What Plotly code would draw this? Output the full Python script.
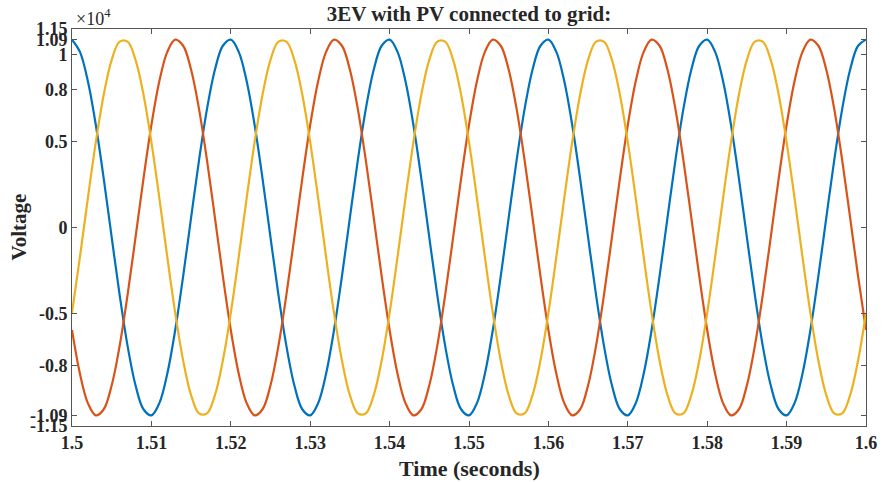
import plotly.graph_objects as go

# Time samples (s), 1 ms step from 1.50 to 1.60
time_s = [round(1.5 + 0.001 * i, 3) for i in range(101)]

# Phase voltages (V)
phase_blue = [
    10885, 10176, 8471, 5937, 2821, -571, -3906, -6860, -9142, -10529,
    -10885, -10176, -8471, -5937, -2821, 571, 3906, 6860, 9142, 10529,
    10885, 10176, 8471, 5937, 2821, -571, -3906, -6860, -9142, -10529,
    -10885, -10176, -8471, -5937, -2821, 571, 3906, 6860, 9142, 10529,
    10885, 10176, 8471, 5937, 2821, -571, -3906, -6860, -9142, -10529,
    -10885, -10176, -8471, -5937, -2821, 571, 3906, 6860, 9142, 10529,
    10885, 10176, 8471, 5937, 2821, -571, -3906, -6860, -9142, -10529,
    -10885, -10176, -8471, -5937, -2821, 571, 3906, 6860, 9142, 10529,
    10885, 10176, 8471, 5937, 2821, -571, -3906, -6860, -9142, -10529,
    -10885, -10176, -8471, -5937, -2821, 571, 3906, 6860, 9142, 10529,
    10885,
]
phase_red = [
    -5937, -8471, -10176, -10885, -10529, -9142, -6860, -3906, -571, 2821,
    5937, 8471, 10176, 10885, 10529, 9142, 6860, 3906, 571, -2821,
    -5937, -8471, -10176, -10885, -10529, -9142, -6860, -3906, -571, 2821,
    5937, 8471, 10176, 10885, 10529, 9142, 6860, 3906, 571, -2821,
    -5937, -8471, -10176, -10885, -10529, -9142, -6860, -3906, -571, 2821,
    5937, 8471, 10176, 10885, 10529, 9142, 6860, 3906, 571, -2821,
    -5937, -8471, -10176, -10885, -10529, -9142, -6860, -3906, -571, 2821,
    5937, 8471, 10176, 10885, 10529, 9142, 6860, 3906, 571, -2821,
    -5937, -8471, -10176, -10885, -10529, -9142, -6860, -3906, -571, 2821,
    5937, 8471, 10176, 10885, 10529, 9142, 6860, 3906, 571, -2821,
    -5937,
]
phase_yellow = [
    -4948, -1705, 1705, 4948, 7707, 9712, 10766, 10766, 9712, 7707,
    4948, 1705, -1705, -4948, -7707, -9712, -10766, -10766, -9712, -7707,
    -4948, -1705, 1705, 4948, 7707, 9712, 10766, 10766, 9712, 7707,
    4948, 1705, -1705, -4948, -7707, -9712, -10766, -10766, -9712, -7707,
    -4948, -1705, 1705, 4948, 7707, 9712, 10766, 10766, 9712, 7707,
    4948, 1705, -1705, -4948, -7707, -9712, -10766, -10766, -9712, -7707,
    -4948, -1705, 1705, 4948, 7707, 9712, 10766, 10766, 9712, 7707,
    4948, 1705, -1705, -4948, -7707, -9712, -10766, -10766, -9712, -7707,
    -4948, -1705, 1705, 4948, 7707, 9712, 10766, 10766, 9712, 7707,
    4948, 1705, -1705, -4948, -7707, -9712, -10766, -10766, -9712, -7707,
    -4948,
]

x_tickvals = [1.5, 1.51, 1.52, 1.53, 1.54, 1.55, 1.56, 1.57, 1.58, 1.59, 1.6]
x_ticktext = ["1.5", "1.51", "1.52", "1.53", "1.54", "1.55", "1.56", "1.57", "1.58", "1.59", "1.6"]
y_tickvals = [-11500, -10900, -8000, -5000, 0, 5000, 8000, 10000, 10900, 11500]
y_ticktext = ["-1.15", "-1.09", "-0.8", "-0.5", "0", "0.5", "0.8", "1", "1.09", "1.15"]

serif = "Liberation Serif, Times New Roman, serif"

fig = go.Figure()
for vals, color in [(phase_blue, "#0072BD"), (phase_red, "#D95319"), (phase_yellow, "#EDB120")]:
    fig.add_trace(go.Scatter(
        x=time_s, y=vals, mode="lines",
        line=dict(color=color, width=2.2, shape="spline", smoothing=1.0),
        showlegend=False, hoverinfo="skip",
    ))

axis_common = dict(
    showgrid=False, zeroline=False, showline=True, linecolor="#555555", linewidth=1,
    mirror="allticks", ticks="inside", ticklen=5, tickcolor="#555555", tickwidth=1,
    tickfont=dict(family=serif, size=18, color="#262626"), automargin=False,
)

fig.update_layout(
    width=882, height=482,
    margin=dict(l=72, r=16, t=29, b=56),
    paper_bgcolor="white", plot_bgcolor="white",
    title=dict(text="<b>3EV with PV connected to grid:</b>", xref="paper", x=0.5, xanchor="center",
               yref="container", y=0.971, yanchor="middle",
               font=dict(family=serif, size=21, color="#262626")),
    xaxis=dict(range=[1.5, 1.6], tickmode="array", tickvals=x_tickvals,
               ticktext=[f"<b>{t}</b>" for t in x_ticktext], **axis_common),
    yaxis=dict(range=[-11500, 11500], tickmode="array", tickvals=y_tickvals,
               ticktext=[f"<b>{t}</b>" for t in y_ticktext], **axis_common),
    annotations=[
        dict(text="<b>Time (seconds)</b>", xref="paper", yref="paper", x=0.5, y=-0.106,
             xanchor="center", yanchor="middle", showarrow=False,
             font=dict(family=serif, size=22, color="#262626")),
        dict(text="<b>Voltage</b>", xref="paper", yref="paper", x=-0.068, y=0.5,
             xanchor="center", yanchor="middle", textangle=-90, showarrow=False,
             font=dict(family=serif, size=21, color="#262626")),
        dict(text="×10<sup>4</sup>", xref="paper", yref="paper", x=0.002, y=0.995,
             xanchor="left", yanchor="bottom", showarrow=False,
             font=dict(family=serif, size=18, color="#262626")),
    ],
)

fig.write_html("out.html")
